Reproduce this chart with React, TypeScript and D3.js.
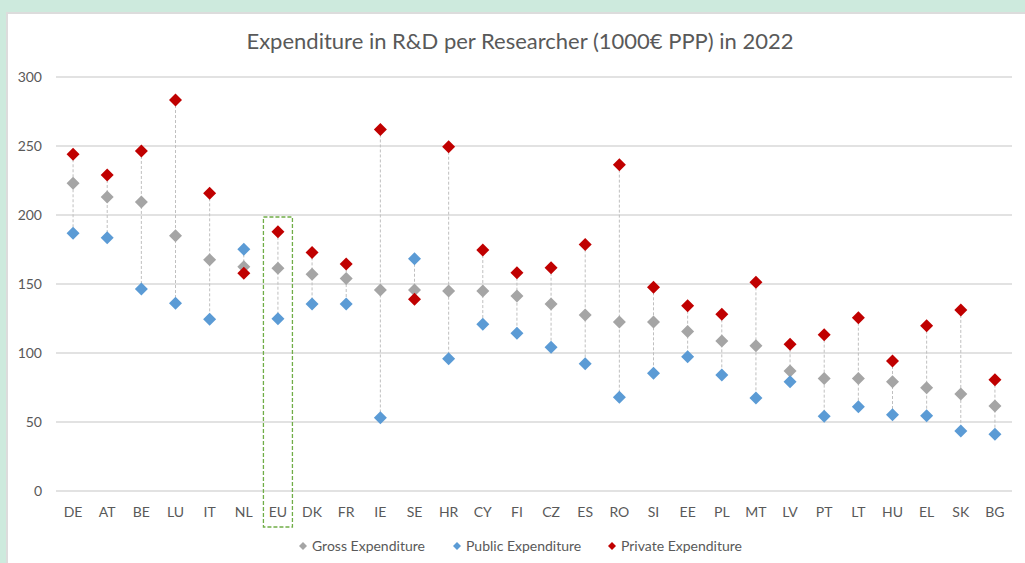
import React, { useEffect, useRef } from "react";
import * as d3 from "d3";

const countries = ["DE", "AT", "BE", "LU", "IT", "NL", "EU", "DK", "FR", "IE", "SE", "HR", "CY", "FI", "CZ", "ES", "RO", "SI", "EE", "PL", "MT", "LV", "PT", "LT", "HU", "EL", "SK", "BG"];
const gross = [223, 213, 209.5, 185, 167.5, 162.5, 161.5, 157, 154, 145.7, 145.7, 145, 145, 141.3, 135.5, 127.5, 122.5, 122.5, 115.5, 108.7, 105.3, 87, 81.6, 81.6, 79.2, 74.9, 70.3, 61.6];
const publicExp = [186.7, 183.6, 146.4, 136, 124.4, 175.1, 124.9, 135.5, 135.5, 53.1, 168.3, 95.9, 120.8, 114.3, 104.1, 92.3, 67.9, 85.3, 97.3, 84.1, 67.4, 79.2, 54.1, 61.1, 55.3, 54.6, 43.5, 41.1];
const privateExp = [244, 229, 246.4, 283.3, 215.7, 157.7, 187.9, 172.9, 164.5, 262, 138.9, 249.5, 174.6, 158.2, 161.8, 178.7, 236.5, 147.6, 134.3, 128, 151.2, 106.3, 113.3, 125.6, 94.2, 119.8, 131.2, 80.7];
const yTicks = [0, 50, 100, 150, 200, 250, 300];
const seriesNames = ["Gross Expenditure", "Public Expenditure", "Private Expenditure"];
const seriesColors = ["#a5a5a5", "#5b9bd5", "#c00000"];

const W = 1025;
const H = 563;

export default function App() {
  const ref = useRef<SVGSVGElement>(null);

  useEffect(() => {
    document.body.style.margin = "0";
    const svg = d3.select(ref.current);
    svg.selectAll("*").remove();

    // background frame
    svg.append("rect").attr("width", W).attr("height", H).attr("fill", "#cdeadd");
    svg.append("rect").attr("x", 7).attr("y", 13).attr("width", W).attr("height", H)
      .attr("fill", "#fff").attr("stroke", "#dcdcdc").attr("stroke-width", 2);

    const font = "Lato, 'Open Sans', sans-serif";

    svg.append("text").attr("x", 520).attr("y", 49).attr("text-anchor", "middle")
      .attr("font-family", font).attr("font-size", 22).attr("fill", "#595959")
      .text("Expenditure in R&D per Researcher (1000€ PPP) in 2022");

    const x = d3.scaleBand().domain(countries).range([56, 1012]);
    const y = d3.scaleLinear().domain([0, 300]).range([491, 77]);
    const cx = (c: string) => (x(c) as number) + x.bandwidth() / 2;

    // grid
    svg.append("g").selectAll("line").data(yTicks).enter().append("line")
      .attr("x1", 56).attr("x2", 1012)
      .attr("y1", (d) => y(d)).attr("y2", (d) => y(d))
      .attr("stroke", "#d9d9d9").attr("stroke-width", 1.3);

    svg.append("g").selectAll("text").data(yTicks).enter().append("text")
      .attr("x", 42).attr("y", (d) => y(d) + 5).attr("text-anchor", "end")
      .attr("font-family", font).attr("font-size", 14).attr("fill", "#595959")
      .text((d) => d);

    svg.append("g").selectAll("text").data(countries).enter().append("text")
      .attr("x", (d) => cx(d)).attr("y", 517).attr("text-anchor", "middle")
      .attr("font-family", font).attr("font-size", 14).attr("fill", "#595959")
      .text((d) => d);

    // drop lines
    svg.append("g").selectAll("line").data(countries).enter().append("line")
      .attr("x1", (d) => cx(d)).attr("x2", (d) => cx(d))
      .attr("y1", (d, i) => y(Math.max(gross[i], publicExp[i], privateExp[i])))
      .attr("y2", (d, i) => y(Math.min(gross[i], publicExp[i], privateExp[i])))
      .attr("stroke", "#bfbfbf").attr("stroke-width", 1).attr("stroke-dasharray", "3,2");

    const diamond = (r: number) => `M0,${-r}L${r},0L0,${r}L${-r},0Z`;
    [gross, publicExp, privateExp].forEach((vals, s) => {
      svg.append("g").selectAll("path").data(vals).enter().append("path")
        .attr("d", diamond(6.5))
        .attr("transform", (d, i) => `translate(${cx(countries[i])},${y(d)})`)
        .attr("fill", seriesColors[s]);
    });

    // EU highlight box
    const eu = cx("EU");
    svg.append("rect").attr("x", eu - 14.5).attr("y", 217).attr("width", 29).attr("height", 310)
      .attr("fill", "none").attr("stroke", "#70ad47").attr("stroke-width", 1.3)
      .attr("stroke-dasharray", "4,2");

    // legend
    const legendX = [303, 457, 612];
    const lg = svg.append("g").selectAll("g").data(seriesNames).enter().append("g")
      .attr("transform", (d, i) => `translate(${legendX[i]},546)`);
    lg.append("path").attr("d", diamond(4)).attr("fill", (d, i) => seriesColors[i]);
    lg.append("text").attr("x", 9).attr("y", 5)
      .attr("font-family", font).attr("font-size", 14).attr("fill", "#595959")
      .text((d) => d);
  }, []);

  return <svg ref={ref} width={W} height={H} style={{ display: "block" }}></svg>;
}
